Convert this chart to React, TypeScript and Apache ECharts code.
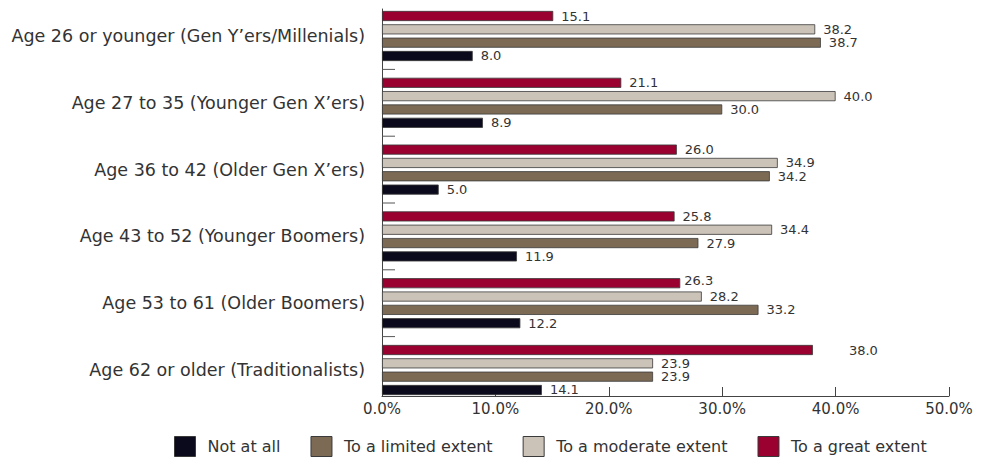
import React, { useEffect, useRef } from "react";
import * as echarts from "echarts";

// Categories listed bottom-first (index 0 sits at the bottom of the axis)
const categories = [
  "Age 62 or older (Traditionalists)",
  "Age 53 to 61 (Older Boomers)",
  "Age 43 to 52 (Younger Boomers)",
  "Age 36 to 42 (Older Gen X\u2019ers)",
  "Age 27 to 35 (Younger Gen X\u2019ers)",
  "Age 26 or younger (Gen Y\u2019ers/Millenials)",
];

const seriesNames = [
  "Not at all",
  "To a limited extent",
  "To a moderate extent",
  "To a great extent",
];

const notAtAll = [14.1, 12.2, 11.9, 5.0, 8.9, 8.0];
const limitedExtent = [23.9, 33.2, 27.9, 34.2, 30.0, 38.7];
const moderateExtent = [23.9, 28.2, 34.4, 34.9, 40.0, 38.2];
const greatExtent = [38.0, 26.3, 25.8, 26.0, 21.1, 15.1];

const xTicks = [0, 10, 20, 30, 40, 50];
// category boundaries that carry a small tick (above category index i)
const boundaryTicks = [0, 1, 2, 3, 4];

const colors = ["#0b0a1c", "#7c6a54", "#cbc3b8", "#9a0030"];
const FONT = "'DejaVu Sans', sans-serif";

// label nudges seen in the reference (series index -> data index -> [dx, dy])
const labelNudges: Record<number, Record<number, number[]>> = {
  3: { 0: [28, 0], 1: [-4, -3] },
};

export default function App() {
  const ref = useRef<HTMLDivElement>(null);

  useEffect(() => {
    if (!ref.current) return;
    const chart = echarts.init(ref.current, undefined, { renderer: "svg" });
    const values = [notAtAll, limitedExtent, moderateExtent, greatExtent];

    const barSeries = seriesNames.map((name, i) => ({
      name,
      type: "bar",
      xAxisIndex: 0,
      yAxisIndex: 0,
      data: values[i].map((v, j) => {
        const nudge = labelNudges[i] && labelNudges[i][j];
        return nudge ? { value: v, label: { offset: nudge } } : v;
      }),
      barGap: "32%",
      barCategoryGap: "25%",
      itemStyle: {
        color: colors[i],
        borderColor: "#3a3a3a",
        borderWidth: 0.8,
      },
      label: {
        show: true,
        position: "right",
        distance: 8,
        formatter: (p: any) => Number(p.value).toFixed(1),
        fontFamily: FONT,
        fontSize: 13,
        color: "#333",
      },
    }));
    // ECharts lays horizontal bar series out from the top, so list them top-first
    barSeries.reverse();

    chart.setOption({
      animation: false,
      textStyle: { fontFamily: FONT },
      grid: [
        { left: 382, right: 36, top: 2.6, height: 400.8 },
        { left: 382, right: 36, top: 9, height: 387 },
      ],
      xAxis: [
        {
          gridIndex: 0,
          type: "value",
          min: xTicks[0],
          max: xTicks[xTicks.length - 1],
          show: false,
        },
        {
          gridIndex: 1,
          type: "value",
          min: xTicks[0],
          max: xTicks[xTicks.length - 1],
          interval: 10,
          axisLine: { show: true, lineStyle: { color: "#444", width: 1 } },
          axisTick: { show: true, inside: true, length: 9, lineStyle: { color: "#444" } },
          splitLine: { show: false },
          axisLabel: {
            formatter: (v: number) => v.toFixed(1) + "%",
            fontFamily: FONT,
            fontSize: 15,
            color: "#333",
            margin: 5,
          },
        },
      ],
      yAxis: [
        {
          gridIndex: 0,
          type: "category",
          data: categories,
          axisLine: { show: false },
          axisTick: { show: false },
          axisLabel: {
            fontFamily: FONT,
            fontSize: 17.5,
            color: "#333",
            margin: 17,
          },
        },
        {
          gridIndex: 1,
          type: "value",
          min: 0,
          max: 1,
          axisLine: { show: true, lineStyle: { color: "#444", width: 1 } },
          axisTick: { show: false },
          axisLabel: { show: false },
          splitLine: { show: false },
        },
      ],
      legend: {
        data: seriesNames,
        left: 169,
        top: 431,
        itemWidth: 21,
        itemHeight: 20,
        itemGap: 30,
        icon: "rect",
        textStyle: { fontFamily: FONT, fontSize: 16, color: "#333", padding: [0, 0, 0, 7] },
        itemStyle: { borderColor: "#3a3a3a", borderWidth: 1 },
      },
      series: [
        ...barSeries,
        {
          name: "boundary ticks",
          type: "custom",
          xAxisIndex: 0,
          yAxisIndex: 0,
          data: boundaryTicks.map((b) => [0, b]),
          encode: { x: 0, y: 1 },
          silent: true,
          renderItem: (params: any, api: any) => {
            const c = api.coord([0, api.value(1)]);
            const h = api.size([0, 1])[1];
            const y = c[1] - h / 2;
            return {
              type: "line",
              shape: { x1: c[0], y1: y, x2: c[0] + 13, y2: y },
              style: { stroke: "#555", lineWidth: 1 },
            };
          },
        },
      ],
    });

    return () => chart.dispose();
  }, []);

  return (
    <div
      ref={ref}
      style={{ position: "fixed", left: 0, top: 0, width: 985, height: 463, background: "#fff" }}
    />
  );
}
